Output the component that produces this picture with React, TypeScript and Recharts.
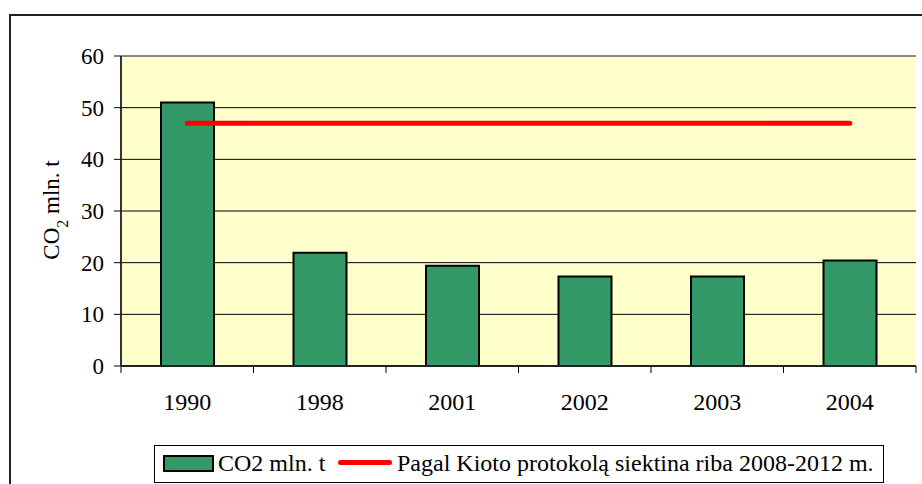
import { ComposedChart, Bar, Line, XAxis, YAxis, CartesianGrid, ReferenceLine } from 'recharts';

const YEARS = ['1990', '1998', '2001', '2002', '2003', '2004'];
const CO2 = [51, 21.9, 19.4, 17.3, 17.3, 20.4];
const KYOTO_LIMIT = [47, 47, 47, 47, 47, 47];
const Y_TICKS = [0, 10, 20, 30, 40, 50, 60];

const SERIES_NAME = 'CO2 mln. t';
const LIMIT_NAME = 'Pagal Kioto protokolą siektina riba 2008-2012 m.';

const FONT = '"Liberation Serif", "Times New Roman", serif';
const BAND = (922 - 121 - 6) / YEARS.length;

const data = YEARS.map((year, i) => ({ year, co2: CO2[i], limit: KYOTO_LIMIT[i] }));

function XTick(props: any) {
    const { x, y, payload, index } = props;
    const half = BAND / 2;
    return (
        <g>
            <line x1={x - half} y1={y} x2={x - half} y2={y + 7} stroke="#000" />
            {index === YEARS.length - 1 && (
                <line x1={x + half} y1={y} x2={x + half} y2={y + 7} stroke="#000" />
            )}
            <text x={x} y={y + 44} textAnchor="middle" fontSize={24} fontFamily={FONT} fill="#000">
                {payload.value}
            </text>
        </g>
    );
}

function YLabel() {
    return (
        <text
            x={59}
            y={210}
            textAnchor="middle"
            fontSize={23}
            fontFamily={FONT}
            fill="#000"
            transform="rotate(-90 59 210)"
        >
            CO<tspan baselineShift="sub" fontSize={16}>2</tspan><tspan> mln. t</tspan>
        </text>
    );
}

export default function App() {
    return (
        <div style={{ position: 'absolute', left: 0, top: 0, width: 922, height: 484, overflow: 'hidden', background: '#fff', fontFamily: FONT }}>
            <div style={{ position: 'absolute', left: 9, top: 14, width: 960, height: 520, border: '2px solid #222' }} />
            <ComposedChart
                width={922}
                height={484}
                data={data}
                margin={{ top: 56, right: 6, left: 61, bottom: 78 }}
                style={{ position: 'absolute', left: 0, top: 0 }}
            >
                <CartesianGrid vertical={false} stroke="#000" fill="#FFFFCC" fillOpacity={1} />
                <XAxis
                    dataKey="year"
                    height={40}
                    tickSize={0}
                    tickMargin={0}
                    tick={<XTick />}
                    axisLine={{ stroke: '#222', strokeWidth: 2 }}
                    interval={0}
                />
                <YAxis
                    width={60}
                    domain={[0, 60]}
                    ticks={Y_TICKS}
                    tickSize={7}
                    tickMargin={10}
                    tick={{ fontSize: 23, fontFamily: FONT, fill: '#000' }}
                    tickLine={{ stroke: '#000' }}
                    axisLine={{ stroke: '#333', strokeWidth: 2 }}
                    label={<YLabel />}
                />
                <YAxis
                    yAxisId="frame"
                    orientation="right"
                    width={0}
                    tick={false}
                    tickLine={false}
                    axisLine={{ stroke: '#888', strokeWidth: 3 }}
                />
                <ReferenceLine y={60} stroke="#888" strokeWidth={2} />
                <Bar
                    dataKey="co2"
                    name={SERIES_NAME}
                    barSize={53}
                    fill="#339966"
                    stroke="#000"
                    strokeWidth={2}
                    isAnimationActive={false}
                />
                <Line
                    dataKey="limit"
                    name={LIMIT_NAME}
                    type="linear"
                    stroke="#FF0000"
                    strokeWidth={5}
                    strokeLinecap="round"
                    dot={false}
                    activeDot={false}
                    isAnimationActive={false}
                />
            </ComposedChart>
            <div style={{ position: 'absolute', left: 154, top: 445, width: 730, height: 38, border: '1px solid #000', background: '#fff', boxSizing: 'border-box' }} />
            <div style={{ position: 'absolute', left: 163, top: 455, width: 51, height: 17, background: '#339966', border: '2px solid #000', boxSizing: 'border-box' }} />
            <span style={{ position: 'absolute', left: 218, top: 450, fontSize: 24, lineHeight: '26px', whiteSpace: 'nowrap' }}>{SERIES_NAME}</span>
            <div style={{ position: 'absolute', left: 338, top: 460, width: 54, height: 5, background: '#FF0000', borderRadius: 3 }} />
            <span style={{ position: 'absolute', left: 397, top: 450, fontSize: 24, lineHeight: '26px', whiteSpace: 'nowrap' }}>{LIMIT_NAME}</span>
        </div>
    );
}
